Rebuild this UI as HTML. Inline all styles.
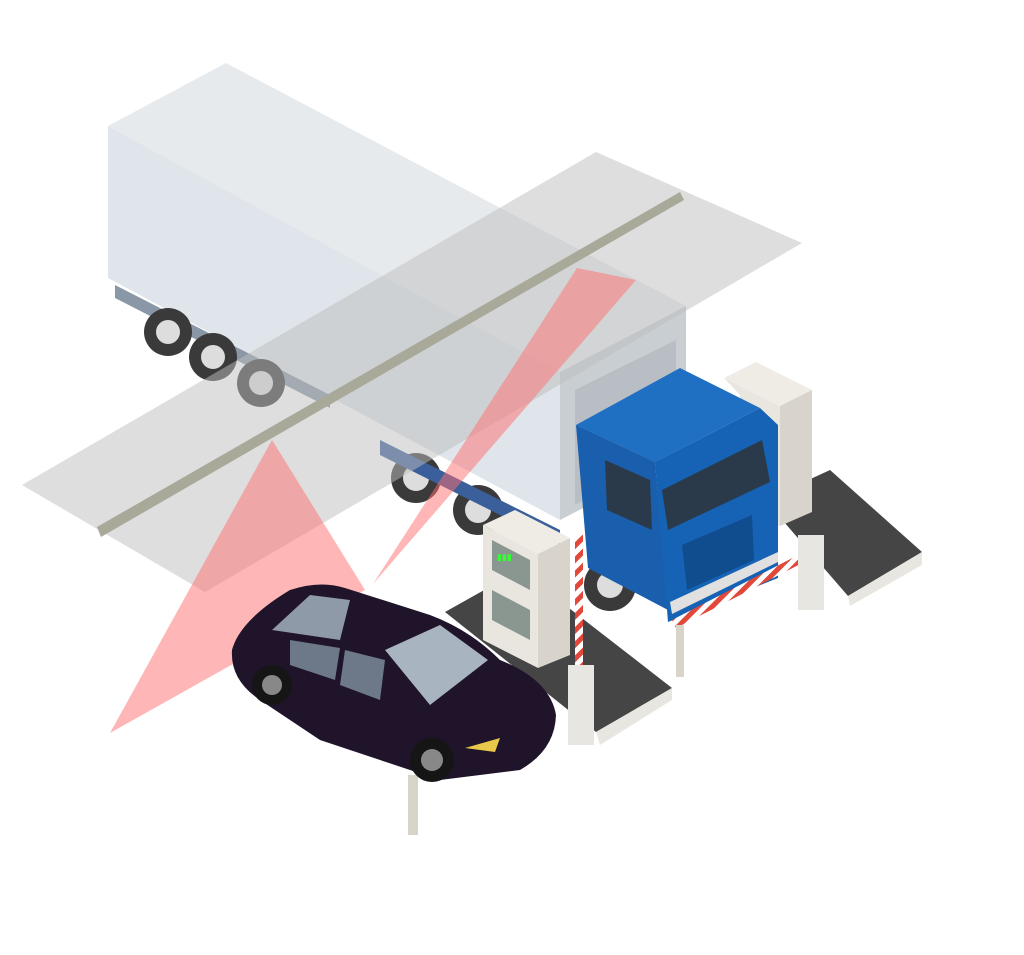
<!DOCTYPE html>
<html><head><meta charset="utf-8"><style>
html,body{margin:0;padding:0;background:#fff;}
svg{display:block;}
</style></head><body>
<svg width="1024" height="955" viewBox="0 0 1024 955" xmlns="http://www.w3.org/2000/svg">
<defs>
<pattern id="stripe" width="10" height="10" patternUnits="userSpaceOnUse" patternTransform="rotate(45)">
<rect width="10" height="10" fill="#fff"/><rect width="5" height="10" fill="#e2483a"/>
</pattern>
</defs>
<!-- ground pads -->
<polygon points="445,612 520,570 672,688 596,732" fill="#454545"/>
<polygon points="596,732 672,688 672,700 600,745" fill="#e8e6e0"/>
<polygon points="765,500 830,470 922,552 848,596" fill="#454545"/>
<polygon points="848,596 922,552 922,565 850,606" fill="#e8e6e0"/>
<!-- trailer -->
<polygon points="108,126 226,63 686,306 560,372" fill="#e6eaed"/>
<polygon points="108,126 560,372 560,520 108,278" fill="#dfe5ea"/>
<polygon points="560,372 686,306 686,455 560,520" fill="#c9ced3"/>
<polygon points="575,390 676,340 676,450 575,505" fill="#b8bec4"/>
<polygon points="115,285 330,395 330,408 115,298" fill="#8a97a6"/>
<!-- right kiosk (behind cab) -->
<polygon points="724,378 756,362 812,390 780,406" fill="#efece6"/>
<polygon points="780,406 812,390 812,512 780,526" fill="#d8d4cc"/>
<polygon points="724,378 780,406 780,526 740,505 740,395" fill="#e9e6e0"/>
<!-- trailer wheels -->
<g fill="#3a3a3a"><circle cx="168" cy="332" r="24"/><circle cx="213" cy="357" r="24"/><circle cx="261" cy="383" r="24"/>
<circle cx="416" cy="478" r="25"/><circle cx="478" cy="510" r="25"/><circle cx="610" cy="585" r="26"/></g>
<g fill="#ddd"><circle cx="168" cy="332" r="12"/><circle cx="213" cy="357" r="12"/><circle cx="261" cy="383" r="12"/>
<circle cx="416" cy="478" r="13"/><circle cx="478" cy="510" r="13"/><circle cx="610" cy="585" r="13"/></g>
<!-- chassis -->
<polygon points="380,440 560,530 560,545 380,455" fill="#3a5f9a"/>
<!-- cab -->
<polygon points="576,425 680,368 760,408 655,462" fill="#1f6fc2"/>
<polygon points="576,425 655,462 668,610 588,568" fill="#1a5fae"/>
<polygon points="655,462 760,408 778,425 778,578 668,622" fill="#1663b5"/>
<polygon points="662,490 762,440 770,482 668,530" fill="#2a3a4a"/>
<polygon points="605,460 650,480 652,530 607,510" fill="#2a3a4a"/>
<polygon points="682,545 752,515 754,560 687,590" fill="#0f4d8f"/>
<polygon points="670,602 778,552 778,562 672,614" fill="#e0e0e0"/>
<!-- plane -->
<polygon points="22,485 596,152 802,243 205,592" fill="rgba(190,190,190,0.5)"/>
<polygon points="97,527 680,192 684,200 101,537" fill="#a9a99a"/>
<!-- red cones -->
<polygon points="272,440 110,733 365,590" fill="rgba(255,110,110,0.5)"/>
<polygon points="577,268 373,584 636,280" fill="rgba(255,110,110,0.5)"/>
<!-- front kiosk -->
<polygon points="483,525 515,510 570,538 538,554" fill="#efece6"/>
<polygon points="538,554 570,538 570,655 538,668" fill="#d8d4cc"/>
<polygon points="483,525 538,554 538,668 483,640" fill="#e9e6e0"/>
<polygon points="492,540 530,560 530,590 492,570" fill="#8a9690"/>
<polygon points="492,590 530,610 530,640 492,620" fill="#8a9690"/>
<text x="497" y="560" font-family="Liberation Sans, sans-serif" font-size="9" fill="#3f3">▮▮▮</text>
<!-- barriers -->
<rect x="575" y="535" width="8" height="160" fill="url(#stripe)"/>
<rect x="568" y="665" width="26" height="80" fill="#e8e6e0"/>
<polygon points="672,620 808,550 812,558 676,628" fill="url(#stripe)"/>
<rect x="798" y="535" width="26" height="75" fill="#e8e6e0"/>
<rect x="676" y="625" width="8" height="52" fill="#d8d4c8"/>
<rect x="408" y="775" width="10" height="60" fill="#d8d4c8"/>
<!-- car -->
<path d="M232,650 Q240,620 290,590 Q320,580 345,588 L430,615 Q470,630 500,660 Q550,680 556,715 Q555,750 520,770 L440,780 Q380,760 320,740 L260,700 Q230,680 232,650 Z" fill="#1f1429"/>
<polygon points="272,630 310,595 350,600 340,640" fill="#8e9aa8"/>
<polygon points="385,650 440,625 488,660 430,705" fill="#a8b4c0"/>
<polygon points="290,640 340,648 335,680 290,665" fill="#6d7888"/>
<polygon points="345,650 385,660 380,700 340,685" fill="#6d7888"/>
<g fill="#151515"><circle cx="272" cy="685" r="20"/><circle cx="432" cy="760" r="22"/></g>
<g fill="#888"><circle cx="272" cy="685" r="10"/><circle cx="432" cy="760" r="11"/></g>
<polygon points="465,748 500,738 495,752" fill="#e8c84a"/>
</svg>
</body></html>
